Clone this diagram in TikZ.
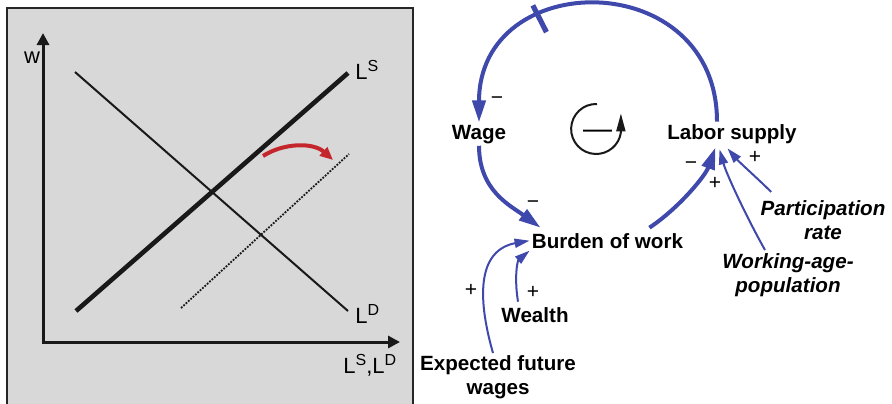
\documentclass[tikz,border=0pt]{standalone}
\usepackage{fontspec}
\setmainfont{Liberation Sans}
\usetikzlibrary{arrows.meta}
\definecolor{cldblue}{HTML}{3F48AB}
\definecolor{panelgray}{HTML}{D8D8D8}
\definecolor{shiftred}{HTML}{C4262B}
\newcommand\lsup[1]{\raisebox{3.7pt}{\fontsize{8}{9}\selectfont #1}}
\begin{document}
\begin{tikzpicture}[x=0.5pt,y=0.5pt,
  var/.style={font=\fontsize{10.3}{12}\selectfont\bfseries, inner sep=1pt, anchor=base, align=center},
  exo/.style={var, font=\fontsize{10.3}{12}\selectfont\bfseries\itshape},
  sgn/.style={font=\fontsize{10.5}{11}\selectfont, inner sep=0pt},
  thicklink/.style={cldblue, line width=2pt, -{Triangle[length=11pt,width=6.5pt]}},
  thinlink/.style={cldblue, line width=1pt, -{Triangle[length=7.5pt,width=4.5pt]}},
  axis/.style={line width=1.5pt, black!90, {Triangle[length=6pt,width=6pt]}-{Triangle[length=6pt,width=6pt]}},
  axlab/.style={font=\fontsize{11}{12}\selectfont, inner sep=0pt, anchor=base west}
]
\useasboundingbox (0,0) rectangle (892,-403);
% ---------- left panel ----------
\draw[line width=1.2pt, draw=black!85, fill=panelgray] (7,-8) rectangle (413,-420);
\draw[axis] (43,-33) -- (43,-342) -- (400,-342);
\node[axlab, anchor=base] (wlab) at (32,-63) {w};
\node[axlab] (xlab) at (343,-373) {L\lsup{S},L\lsup{D}};
\draw[line width=1pt, black!90] (75,-72) -- (348,-311);
\draw[line width=2.3pt, black!90] (76,-311) -- (348,-73);
\draw[line width=0.9pt, black!90, dash pattern=on 0.9pt off 0.7pt] (181,-308) -- (349,-154);
\node[axlab] (lslab) at (355,-79) {L\lsup{S}};
\node[axlab] (ldlab) at (355,-323) {L\lsup{D}};
\draw[shiftred, line width=2pt, -{Triangle[length=6.5pt,width=5.5pt]}] (263,-156) .. controls (283,-143) and (313,-142) .. (333,-160);
% ---------- causal loop diagram ----------
\node[var] (wage) at (479,-139) {Wage};
\node[var] (ls) at (732,-139) {Labor supply};
\node[var] (bw) at (607.5,-248) {Burden of work};
\node[var] (wealth) at (535,-322) {Wealth};
\node[var, anchor=north] (efw) at (498,-353) {Expected future\\wages};
\node[exo, anchor=north] (pr) at (823,-198) {Participation\\rate};
\node[exo, anchor=north] (wap) at (788,-251) {Working-age-\\population};
\draw[thicklink] ([xshift=-7.5pt]ls.north) .. controls +(0,156) and +(0,156) .. (wage.north)
  node[pos=0.67, sloped, fill=cldblue, inner sep=0pt, minimum width=2.6pt, minimum height=15pt] (delay) {};
\draw[thicklink] (wage.south) .. controls +(0,-45) and +(-30,22) .. ([shift={(5.5pt,1.5pt)}]bw.north west);
\draw[thicklink] ([shift={(-18pt,1.5pt)}]bw.north east) .. controls +(30,20) and +(-10,-28) .. ([shift={(-8.25pt,-0.85pt)}]ls.south);
\draw[thinlink] ([shift={(-11.5pt,0.5pt)}]wap.north) .. controls +(-17,30) and +(7,-25) .. ([shift={(-6.25pt,-1.85pt)}]ls.south);
\draw[thinlink] ([shift={(6.5pt,3pt)}]pr.north west) .. controls +(-12,12) and +(12,-14) .. ([shift={(-2.25pt,-1.35pt)}]ls.south);
\draw[thinlink] ([shift={(-8.5pt,1.5pt)}]wealth.north) .. controls +(-4,25) and +(-12,-10) .. (bw.south west);
\draw[thinlink] ([xshift=-2.5pt]efw.north) .. controls +(-20,70) and +(-45,-8) .. (bw.west);
% polarity signs
\node[sgn] (s1) at (497,-101) {−};
\node[sgn] (s2) at (533,-205) {−};
\node[sgn] (s3) at (471,-290) {+};
\node[sgn] (s4) at (533,-292) {+};
\node[sgn] (s5) at (691,-166) {−};
\node[sgn] (s6) at (715,-183) {+};
\node[sgn] (s7) at (755,-157) {+};
% loop polarity symbol
\draw[black!90, line width=1pt, -{Triangle[length=9pt,width=4.5pt]}] (597,-104) arc[start angle=88, end angle=352, radius=25] -- ++(0,19);
\node[font=\fontsize{14.5}{15}\selectfont, inner sep=0pt, anchor=base] (loopsign) at (597.5,-138) {—};
\end{tikzpicture}
\end{document}
